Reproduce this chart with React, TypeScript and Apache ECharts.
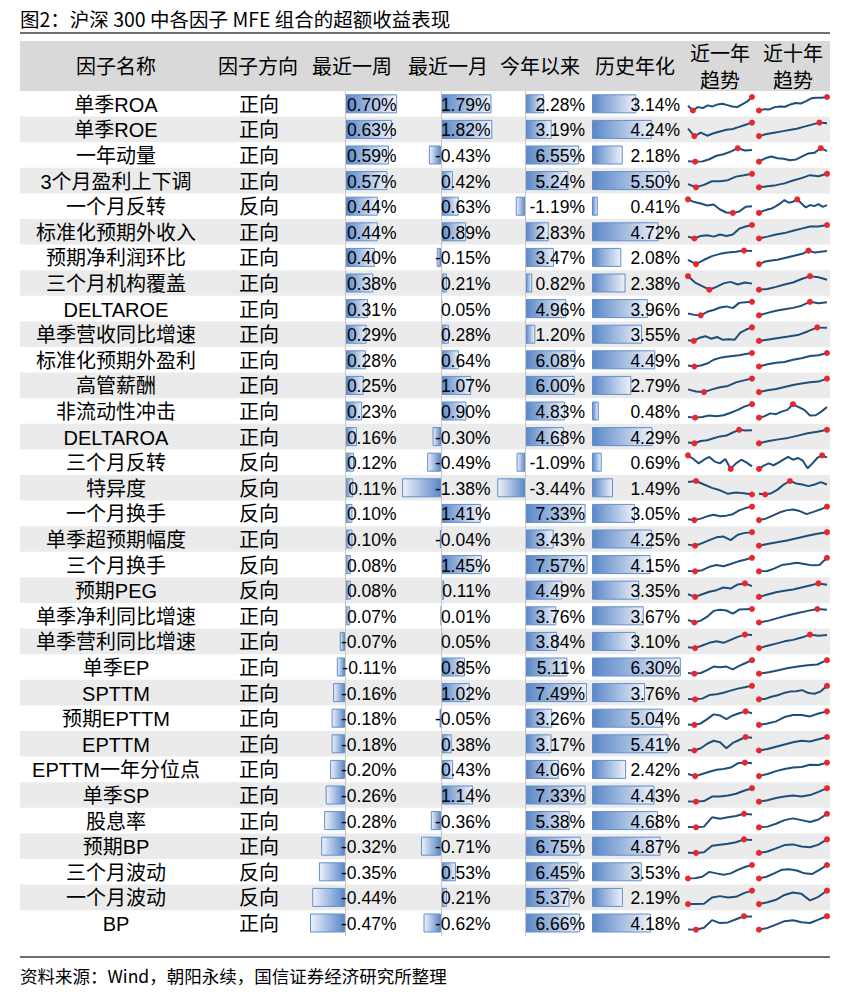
import React, { useEffect, useRef } from "react";
import * as echarts from "echarts";

const title = "图2：沪深 300 中各因子 MFE 组合的超额收益表现";
const source = "资料来源：Wind，朝阳永续，国信证券经济研究所整理";
const headers = ["因子名称", "因子方向", "最近一周", "最近一月", "今年以来", "历史年化"];
const trendHeaders = [["近一年", "趋势"], ["近十年", "趋势"]];

const factorNames = [
  "单季ROA", "单季ROE", "一年动量", "3个月盈利上下调", "一个月反转", "标准化预期外收入",
  "预期净利润环比", "三个月机构覆盖", "DELTAROE", "单季营收同比增速", "标准化预期外盈利",
  "高管薪酬", "非流动性冲击", "DELTAROA", "三个月反转", "特异度", "一个月换手",
  "单季超预期幅度", "三个月换手", "预期PEG", "单季净利同比增速", "单季营利同比增速",
  "单季EP", "SPTTM", "预期EPTTM", "EPTTM", "EPTTM一年分位点", "单季SP", "股息率",
  "预期BP", "三个月波动", "一个月波动", "BP",
];
const directions = [
  "正向", "正向", "正向", "正向", "反向", "正向", "正向", "正向", "正向", "正向", "正向",
  "正向", "正向", "正向", "反向", "反向", "反向", "正向", "反向", "反向", "正向", "正向",
  "正向", "正向", "正向", "正向", "正向", "正向", "正向", "正向", "反向", "反向", "正向",
];
const lastWeek = [
  0.70, 0.63, 0.59, 0.57, 0.44, 0.44, 0.40, 0.38, 0.31, 0.29, 0.28, 0.25, 0.23, 0.16, 0.12, 0.11,
  0.10, 0.10, 0.08, 0.08, 0.07, -0.07, -0.11, -0.16, -0.18, -0.18, -0.20, -0.26, -0.28, -0.32,
  -0.35, -0.44, -0.47,
];
const lastMonth = [
  1.79, 1.82, -0.43, 0.42, 0.63, 0.89, -0.15, 0.21, 0.05, 0.28, 0.64, 1.07, 0.90, -0.30, -0.49,
  -1.38, 1.41, -0.04, 1.45, 0.11, 0.01, 0.05, 0.85, 1.02, -0.05, 0.38, 0.43, 1.14, -0.36, -0.71,
  0.53, 0.21, -0.62,
];
const yearToDate = [
  2.28, 3.19, 6.55, 5.24, -1.19, 2.83, 3.47, 0.82, 4.96, 1.20, 6.08, 6.00, 4.83, 4.68, -1.09,
  -3.44, 7.33, 3.43, 7.57, 4.49, 3.76, 3.84, 5.11, 7.49, 3.26, 3.17, 4.06, 7.33, 5.38, 6.75,
  6.45, 5.37, 6.66,
];
const annualized = [
  3.14, 4.24, 2.18, 5.50, 0.41, 4.72, 2.08, 2.38, 3.96, 3.55, 4.49, 2.79, 0.48, 4.29, 0.69,
  1.49, 3.05, 4.25, 4.15, 3.35, 3.67, 3.10, 6.30, 3.76, 5.04, 5.41, 2.42, 4.43, 4.68, 4.87,
  3.53, 2.19, 4.18,
];

// sparkline shapes (relative levels)
const trend1y = [
  [3.5, 0, 2.5, 1.8, 3.8, 3, 4.5, 5, 4, 3, 2.5, 4.5, 6.5, 10],
  [5.5, 0, 2.6, 0.3, 2.1, 3.4, 4.7, 5.3, 6.8, 8.4, 10],
  [0.3, 0, 0.2, 1.8, 4.4, 5.5, 7.5, 10, 8.3, 8.6],
  [2.4, 0, 1.8, 4.5, 4.5, 5.3, 7.9, 8.9, 10],
  [10, 8, 7, 5.5, 6.2, 2.5, 0.3, 0, 1, 4.5, 5],
  [1.4, 0, 1.9, 2.4, 1.4, 3, 1.9, 3, 7.3, 8.9, 10],
  [3.2, 0, 3.2, 5.9, 7.6, 8.6, 9.2, 10, 9.7],
  [10, 5.3, 2.6, 0, 2.1, 4.7, 5.8, 3.9, 5.3, 4.5],
  [1.3, 0.3, 0, 2.6, 3.9, 5.8, 6.6, 5.3, 9.2, 9.7, 10],
  [0.5, 0, 2.4, 3.5, 1.6, 2.9, 0.8, 1.3, 0.8, 6.2, 8.4, 10],
  [0.8, 0, 0.8, 2.2, 5, 6.4, 7.2, 7.8, 8.3, 9.2, 10],
  [2, 0.5, 0, 2, 3.6, 4.6, 7.2, 8.7, 10],
  [0.5, 0, 0.5, 1.6, 1.1, 1.8, 3.7, 5.8, 8.4, 10],
  [0.6, 0, 1.7, 2.3, 3.7, 5.1, 5.7, 8, 10, 9.4, 9.7],
  [10, 7.3, 4.1, 6.8, 8.9, 5.4, 4.1, 7.3, 0, 4.1, 6.8, 4.6, 1.9],
  [9.2, 10, 7.4, 4.9, 3.1, 0.5, 1.5, 1, 0],
  [0.6, 0, 1.1, 2.8, 3.9, 2.8, 3.3, 4.4, 7.2, 8.9, 10],
  [0.8, 0, 1.9, 4.1, 6.2, 6.8, 4.1, 8.1, 9.5, 10],
  [0.3, 0, 0.8, 3.3, 4.6, 3.8, 5.4, 7.2, 8.5, 10],
  [2, 0, 2, 3.8, 5, 7, 6.2, 9.2, 10, 8],
  [2, 0, 1.4, 4.3, 8.6, 9.5, 8.9, 6.6, 9.6, 9.8, 10],
  [0.6, 0, 1.9, 3.9, 5, 3.9, 6.1, 8.3, 10, 9.7],
  [0.5, 0, 0.5, 2.6, 5.3, 4.7, 5.3, 3.2, 5.8, 7.9, 10],
  [0.3, 0, 0.5, 3.1, 3.8, 4.9, 6.4, 7.9, 9, 10],
  [0.3, 0, 1.1, 4.3, 7.8, 7, 4.3, 7, 8.6, 10, 8.6],
  [0.2, 0, 1.7, 5, 7.2, 6.1, 1.7, 5.6, 7.8, 10, 9.4],
  [1.6, 0, 1.6, 3.2, 4.7, 5.3, 6.3, 9.5, 10, 9.5],
  [0.2, 0, 0.5, 3.8, 3.8, 4.6, 5.9, 8.1, 10],
  [0.2, 0, 0.5, 7.4, 6.3, 7.4, 8.4, 10, 9.5],
  [0.2, 0, 0.5, 5.3, 6.1, 6.8, 7.9, 10, 9.5],
  [0, 0.2, 1.3, 4.9, 3.8, 2.8, 3.8, 6.4, 8.5, 10],
  [0, 0.1, 0.2, 4.9, 5.9, 4.9, 5.4, 8.1, 10],
  [0.2, 0, 1.4, 7.1, 4.9, 5.4, 7.7, 10, 9.8],
];
const trend10y = [
  [0, 1, 0.8, 2.5, 3, 2.8, 4.5, 5.5, 5.2, 7, 9, 9.5, 9.5, 10],
  [0, 1.5, 2.5, 3.5, 4.5, 5.5, 7, 8.5, 10, 9.6],
  [0, 2.5, 3.9, 2.5, 2.2, 1.1, 1.7, 3.9, 6.1, 6.7, 10, 7.8],
  [0, 0.8, 1.6, 2.9, 5, 6.8, 9, 8.2, 10],
  [0, 1.5, 2.5, 3.3, 5, 7, 9.5, 7.5, 8.3, 10, 7, 4, 5.8, 5, 6.5, 4.5, 5.8],
  [0, 1.4, 3, 4, 5.7, 7.3, 8.9, 8.9, 10],
  [0, 1.9, 2.7, 3.2, 4.3, 5.4, 6.5, 7.6, 10, 8.6, 9.2, 9.7],
  [0, 0.5, 2.1, 3.9, 5.3, 7.9, 10, 9.2, 7.4],
  [0, 1.8, 3.4, 4.5, 5.5, 7.1, 10, 9, 9.6],
  [0, 1.1, 2.2, 3.2, 4.3, 7, 10, 9.7],
  [0, 1.7, 2.8, 3.3, 5, 6.1, 7.8, 8.3, 10],
  [0, 1.3, 2.3, 3.8, 5.3, 6.3, 7.3, 7.8, 10],
  [0, 1.1, 3.2, 2.6, 4.5, 5.8, 10, 7.9, 5.8, 1.6, 1.8, 4.5, 7.9],
  [0, 1.7, 2.9, 4, 5.7, 7.4, 8.6, 10],
  [0, 2.4, 4.1, 2.7, 4.6, 6.8, 8.9, 6.8, 8.1, 6.2, 0.5, 4.1, 8.1, 10, 8.4],
  [0.5, 0, 1, 3.6, 7.4, 10, 8.2, 7.4, 6.2, 7.4, 9.2, 7.4],
  [0, 1.1, 3.3, 5.6, 7.2, 7.8, 6.7, 4.4, 6.1, 7.8, 10],
  [0, 1.4, 2.7, 4.1, 5.7, 7.3, 8.9, 10],
  [0, 0.05, 2, 4.6, 5.4, 6.4, 5.4, 4.4, 4.6, 10],
  [0, 1.8, 3.5, 4.5, 5.5, 7, 8.5, 10, 9],
  [0, 1.4, 3.4, 5.4, 7.1, 8.6, 10, 9.4],
  [0, 1.7, 3.3, 5, 6.1, 7.8, 10, 9.2, 9.7],
  [0, 1.1, 2.6, 4.2, 5.3, 6.3, 6.8, 10],
  [0, 0.3, 1.9, 3, 4.6, 5.7, 5.9, 6.8, 4.6, 4.1, 5.9, 10],
  [0, 1, 2.6, 5.8, 7.4, 7.4, 6.3, 8.4, 10],
  [0, 1.1, 2.8, 4.4, 6.1, 7.2, 6.7, 8.3, 10],
  [0, 1.6, 3.7, 5.3, 6.3, 6.8, 8.4, 8.2, 10],
  [0, 1.1, 2.7, 3.8, 4.6, 3.8, 4.9, 7.3, 10],
  [0, 0.5, 2.6, 5.3, 6.6, 5.3, 3.9, 5.8, 10],
  [0, 1, 3.4, 5.8, 6.3, 4.7, 4.2, 6.1, 10],
  [0, 1.3, 3.8, 6.4, 6.9, 5.9, 3.8, 3.3, 6.4, 10],
  [0, 1.4, 3.2, 6.8, 8.6, 7.6, 2.7, 5.4, 10],
  [0, 1.3, 3.8, 6.3, 7, 5.5, 5, 7.5, 10],
];

// ---- layout ----
const W = 843;
const H = 997;
const TL = 20;
const TR = 830;
const ROW_TOP = 91;
const ROW_H = 25.6;
const N = factorNames.length;
const FONT = '"Liberation Sans", "Noto Sans CJK SC", sans-serif';
const CJK = '"Noto Sans CJK SC", "Liberation Sans", sans-serif';
const BAR_DARK = "#5a87c8";
const BAR_LIGHT = "#eef2fa";
const BAR_BORDER = "#628fcc";

const barCols = [
  { data: lastWeek, zero: 345, scale: 74.5, min: -0.6, max: 0.8, textRight: 396.5, zeroLine: true },
  { data: lastMonth, zero: 441, scale: 28.2, min: -1.5, max: 2.0, textRight: 490.5, zeroLine: true },
  { data: yearToDate, zero: 525.5, scale: 8.2, min: -4, max: 8, textRight: 585, zeroLine: true },
  { data: annualized, zero: 592, scale: 14.1, min: 0, max: 6.5, textRight: 680, zeroLine: false },
];
const sparkCols = [
  { data: trend1y, left: 688, width: 64 },
  { data: trend10y, left: 759, width: 68 },
];

const rowCenter = (i: number) => ROW_TOP + i * ROW_H + ROW_H / 2;

function buildOption() {
  const grids: any[] = [];
  const xAxes: any[] = [];
  const yAxes: any[] = [];
  const series: any[] = [];
  const elements: any[] = [];
  const cats = factorNames.map((_, i) => String(i));

  barCols.forEach((c, k) => {
    grids.push({
      left: c.zero + c.min * c.scale,
      width: (c.max - c.min) * c.scale,
      top: ROW_TOP,
      height: ROW_H * N,
      containLabel: false,
    });
    xAxes.push({ gridIndex: k, type: "value", min: c.min, max: c.max, show: false });
    yAxes.push({ gridIndex: k, type: "category", data: cats, inverse: true, show: false });
    series.push({
      type: "bar",
      xAxisIndex: k,
      yAxisIndex: k,
      barWidth: 19,
      silent: true,
      z: 3,
      data: c.data.map((v) => ({
        value: v,
        itemStyle: {
          color: new echarts.graphic.LinearGradient(
            0, 0, 1, 0,
            v >= 0
              ? [{ offset: 0, color: BAR_DARK }, { offset: 1, color: BAR_LIGHT }]
              : [{ offset: 0, color: BAR_LIGHT }, { offset: 1, color: BAR_DARK }]
          ),
          borderColor: BAR_BORDER,
          borderWidth: 1,
        },
      })),
      markLine: c.zeroLine
        ? {
            silent: true,
            symbol: ["none", "none"],
            label: { show: false },
            lineStyle: { color: "#c4c4c4", width: 1, type: "solid" },
            data: [{ xAxis: 0 }],
          }
        : undefined,
    });
    c.data.forEach((v, i) => {
      elements.push({
        type: "text",
        x: c.textRight,
        y: rowCenter(i) + 1,
        z: 20,
        silent: true,
        style: {
          text: v.toFixed(2) + "%",
          fontSize: 17.5,
          fontFamily: FONT,
          fill: "#000",
          align: "right",
          verticalAlign: "middle",
        },
      });
    });
  });

  let gi = barCols.length;
  for (let i = 0; i < N; i++) {
    sparkCols.forEach((s) => {
      const d = s.data[i];
      grids.push({ left: s.left, width: s.width, top: ROW_TOP + i * ROW_H + 6, height: 13.5 });
      xAxes.push({ gridIndex: gi, type: "category", data: d.map((_, j) => j), boundaryGap: false, show: false });
      yAxes.push({ gridIndex: gi, type: "value", min: "dataMin", max: "dataMax", show: false });
      series.push({
        type: "line",
        xAxisIndex: gi,
        yAxisIndex: gi,
        data: d,
        symbol: "none",
        silent: true,
        z: 4,
        lineStyle: { color: "#1f4e79", width: 2 },
        markPoint: {
          silent: true,
          symbol: "circle",
          symbolSize: 6,
          label: { show: false },
          itemStyle: { color: "#e8262b" },
          data: [{ type: "max" }, { type: "min" }],
        },
      });
      gi++;
    });
  }

  // backgrounds
  elements.push({ type: "rect", z: 0, silent: true, shape: { x: TL, y: 41, width: TR - TL, height: 50 }, style: { fill: "#d9d9d9" } });
  for (let i = 1; i < N; i += 2) {
    elements.push({
      type: "rect", z: 0, silent: true,
      shape: { x: TL, y: ROW_TOP + i * ROW_H, width: TR - TL, height: ROW_H },
      style: { fill: "#ebebeb" },
    });
  }
  // title + rules
  elements.push({
    type: "text", x: TL, y: 18.5, z: 20,
    style: { text: title, fontSize: 19.5, fontFamily: CJK, fill: "#000", align: "left", verticalAlign: "middle" },
  });
  elements.push({ type: "line", z: 20, shape: { x1: TL, y1: 33, x2: TR, y2: 33 }, style: { stroke: "#404040", lineWidth: 1.5 } });
  elements.push({ type: "line", z: 20, shape: { x1: TL, y1: 957, x2: TR, y2: 957 }, style: { stroke: "#404040", lineWidth: 1.5 } });
  elements.push({
    type: "text", x: TL, y: 975, z: 20,
    style: { text: source, fontSize: 17.5, fontFamily: CJK, fill: "#000", align: "left", verticalAlign: "middle" },
  });
  // headers
  const headerX = [116, 258, 352, 448, 540, 635];
  headers.forEach((h, k) => {
    elements.push({
      type: "text", x: headerX[k], y: 67, z: 20,
      style: { text: h, fontSize: 20, fontFamily: FONT, fill: "#000", align: "center", verticalAlign: "middle" },
    });
  });
  const trendX = [720, 793];
  trendHeaders.forEach((lines, k) => {
    lines.forEach((t, j) => {
      elements.push({
        type: "text", x: trendX[k], y: j === 0 ? 54 : 81, z: 20,
        style: { text: t, fontSize: 20, fontFamily: FONT, fill: "#000", align: "center", verticalAlign: "middle" },
      });
    });
  });
  // names and directions
  factorNames.forEach((n, i) => {
    elements.push({
      type: "text", x: 116, y: rowCenter(i) + 1, z: 20,
      style: { text: n, fontSize: 20, fontFamily: FONT, fill: "#000", align: "center", verticalAlign: "middle" },
    });
    elements.push({
      type: "text", x: 259, y: rowCenter(i) + 1, z: 20,
      style: { text: directions[i], fontSize: 20, fontFamily: FONT, fill: "#000", align: "center", verticalAlign: "middle" },
    });
  });

  return {
    animation: false,
    backgroundColor: "#ffffff",
    grid: grids,
    xAxis: xAxes,
    yAxis: yAxes,
    series,
    graphic: { elements },
  };
}

export default function App() {
  const ref = useRef<HTMLDivElement>(null);
  useEffect(() => {
    if (!ref.current) return;
    const chart = echarts.init(ref.current, undefined, { renderer: "svg" });
    chart.setOption(buildOption() as any);
    return () => chart.dispose();
  }, []);
  return <div ref={ref} style={{ position: "absolute", left: 0, top: 0, width: W, height: H }} />;
}
